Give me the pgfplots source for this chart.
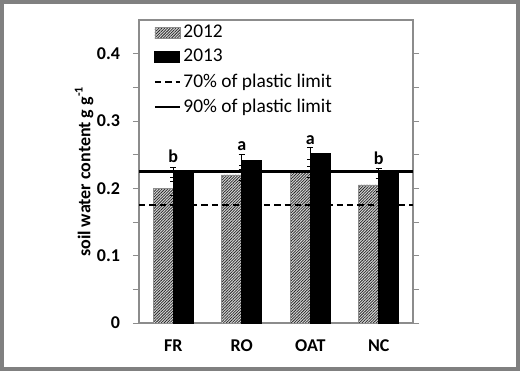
\documentclass[border=0pt]{standalone}
\usepackage{fontspec}
\setmainfont{Carlito}
\usepackage{pgfplots}
\usepackage{pgfplotstable}
\pgfplotsset{compat=1.18}
\usetikzlibrary{patterns.meta}

\pgfplotstableread{
x y err
0 0.200 0.010
1 0.220 0.008
2 0.224 0.008
3 0.205 0.010
}\dataA
\pgfplotstableread{
x y err lab
0 0.224 0.0075 b
1 0.242 0.0085 a
2 0.2515 0.0085 a
3 0.222 0.007 b
}\dataB
\pgfplotstableread{
x y
-0.5 0.175
3.5 0.175
}\lineA
\pgfplotstableread{
x y
-0.5 0.225
3.5 0.225
}\lineB

\newcommand{\fs}{\fontsize{9.0}{11}\selectfont}
\newcommand{\fl}{\fontsize{9.0}{11}\selectfont}
\newcommand{\fg}{\fontsize{9.7}{11}\selectfont}
\pgfplotsset{
  boxlegend/.style={legend image code/.code={\draw[##1] (0pt,-2.75pt) rectangle (12.5pt,2.75pt);}},
  linelegend/.style={legend image code/.code={\draw[##1] (0pt,0pt) -- (12.5pt,0pt);}},
}

\begin{document}
\begin{tikzpicture}
\useasboundingbox (-69.5pt,-24pt) rectangle (190.5pt,161.5pt);
\begin{axis}[
  scale only axis, width=137pt, height=151.5pt,
  xmin=-0.5, xmax=3.5, ymin=0, ymax=0.45,
  xtick={0,1,2,3}, xticklabels={FR,RO,OAT,NC},
  ytick={0,0.1,0.2,0.3,0.4}, minor ytick={0.05,0.15,0.25,0.35},
  yticklabel style={/pgf/number format/fixed, /pgf/number format/precision=1, xshift=-3pt},
  /pgf/number format/assume math mode=true,
  x tick style={draw=none},
  y tick style={black!45, line width=0.5pt},
  tick align=outside, major tick length=3pt, minor tick length=3pt,
  axis line style={black!45, line width=0.6pt},
  ticklabel style={font=\fs\bfseries},
  xticklabel style={yshift=-2pt},
  ylabel={soil water content g g\textsuperscript{-1}},
  ylabel style={font=\fl\bfseries, at={(axis description cs:-0.2,0.5)}, anchor=center},
  legend cell align=left,
  legend style={at={(axis description cs:0.052,1)}, anchor=north west, yshift=-0.4pt, draw=none, fill=none, inner sep=0pt, font=\fg, row sep=0.3pt, nodes={inner xsep=1.2pt}},
]
\addplot[ybar, bar width=10pt, bar shift=-5pt, fill=gray!30, draw=black!45, line width=0.3pt,
  postaction={pattern={Lines[angle=45,distance=1.0pt,line width=0.38pt]}, pattern color=black!85},
  boxlegend,
  error bars/.cd, y dir=both, y explicit,
  error bar style={black, line width=0.5pt},
  error mark options={rotate=90, mark size=1.5pt, black, line width=0.5pt}]
  table[x=x, y=y, y error=err] {\dataA};
\addlegendentry{2012}
\addplot[ybar, bar width=10pt, bar shift=5pt, fill=black, draw=black,
  boxlegend,
  point meta=explicit symbolic,
  nodes near coords,
  nodes near coords style={font=\fs\bfseries, inner sep=0pt, anchor=south, yshift=4.4pt},
  error bars/.cd, y dir=both, y explicit,
  error bar style={black, line width=0.5pt},
  error mark options={rotate=90, mark size=1.5pt, black, line width=0.5pt}]
  table[x=x, y=y, y error=err, meta=lab] {\dataB};
\addlegendentry{2013}
\addplot[sharp plot, black, line width=0.9pt, dash pattern=on 3.2pt off 2pt, no marks, linelegend]
  table[x=x, y=y] {\lineA};
\addlegendentry{70\% of plastic limit}
\addplot[sharp plot, black, line width=1.2pt, no marks, linelegend]
  table[x=x, y=y] {\lineB};
\addlegendentry{90\% of plastic limit}
\end{axis}
\draw[black!50, line width=2.2pt] (-68.4pt,-22.9pt) rectangle (189.4pt,160.4pt);
\end{tikzpicture}
\end{document}
